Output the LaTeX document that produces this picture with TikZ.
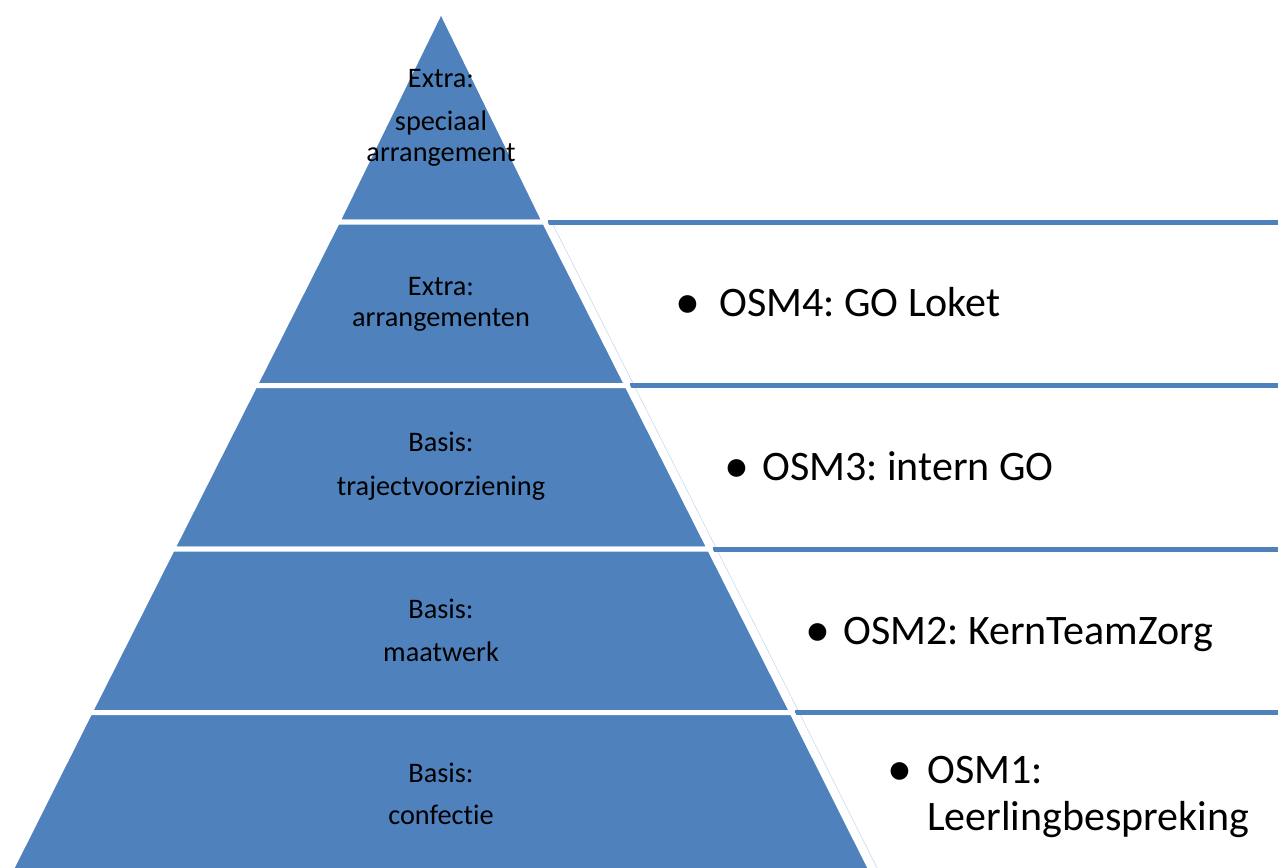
\documentclass[tikz,border=0pt]{standalone}
\usepackage{fontspec}
\setmainfont{Carlito}[Ligatures={NoCommon}]
\frenchspacing
\usetikzlibrary{positioning, calc}
\definecolor{laagblauw}{RGB}{79,129,189}
\tikzset{%
  laag/.style={fill=laagblauw, draw=white, line width=5pt, line join=miter},
  rand/.style={draw=laagblauw, line width=5pt},
  schuin/.style={draw=laagblauw!30, line width=0.6pt},
  lbl/.style={align=center, inner sep=0pt, font=\fontsize{28.3}{31}\selectfont},
  osm/.style={anchor=base west, align=left, inner sep=0pt, font=\fontsize{42}{47}\selectfont},
  bol/.style={anchor=base, inner sep=0pt, font=\fontsize{50}{47}\selectfont}
}

\begin{document}
\begin{tikzpicture}[x=1pt, y=-1pt]
        \useasboundingbox (0,0) rectangle (1278,868);
        \clip (0,0) rectangle (1278,868);
        % pyramid corners
        \coordinate (t)  at (441,10);
        \coordinate (l1) at (337.4,222);   \coordinate (r1) at (544.6,222);
        \coordinate (l2) at (254.9,385.5); \coordinate (r2) at (627.1,385.5);
        \coordinate (l3) at (172.4,549);   \coordinate (r3) at (709.6,549);
        \coordinate (l4) at (89.9,712.5);  \coordinate (r4) at (792.1,712.5);
        \coordinate (l5) at (7.4,877);     \coordinate (r5) at (874.6,877);
        % boxes on the right
        \foreach \a/\b in {r1/r2, r2/r3, r3/r4, r4/r5} {
          \draw[schuin] ($(\a)+(7,0)$) -- ($(\b)+(7,0)$);
          \draw[rand] ($(\a)+(3,0)$) -- (\a -| 1290,0);
        }
        % layers
        \draw[laag] (t) -- (r1) -- (l1) -- cycle;
        \draw[laag] (l1) -- (r1) -- (r2) -- (l2) -- cycle;
        \draw[laag] (l2) -- (r2) -- (r3) -- (l3) -- cycle;
        \draw[laag] (l3) -- (r3) -- (r4) -- (l4) -- cycle;
        \draw[laag] (l4) -- (r4) -- (r5) -- (l5) -- cycle;
        % labels
        \node[lbl] (1) at (441,118) {Extra:\\[12pt]speciaal\\arrangement};
        \node[lbl] (2) at (441,304) {Extra:\\arrangementen};
        \node[lbl] (3) at (441,466) {Basis:\\[13pt]trajectvoorziening};
        \node[lbl] (4) at (441,630) {Basis:\\[12pt]maatwerk};
        \node[lbl] (5) at (441,794) {Basis:\\[11pt]confectie};
        \node[bol] (b4) at (688,318) {•};
        \node[osm] (o4) at (719,316) {OSM4: GO Loket};
        \node[bol] (b3) at (737,482) {•};
        \node[osm] (o3) at (762,480) {OSM3: intern GO};
        \node[bol] (b2) at (818,646) {•};
        \node[osm] (o2) at (843,644) {OSM2: KernTeamZorg};
        \node[bol] (b1) at (900,785) {•};
        \node[osm] (o1) at (927,783) {OSM1:};
        \node[osm] (o1b) at (927,830) {Leerlingbespreking};
\end{tikzpicture}
\end{document}
